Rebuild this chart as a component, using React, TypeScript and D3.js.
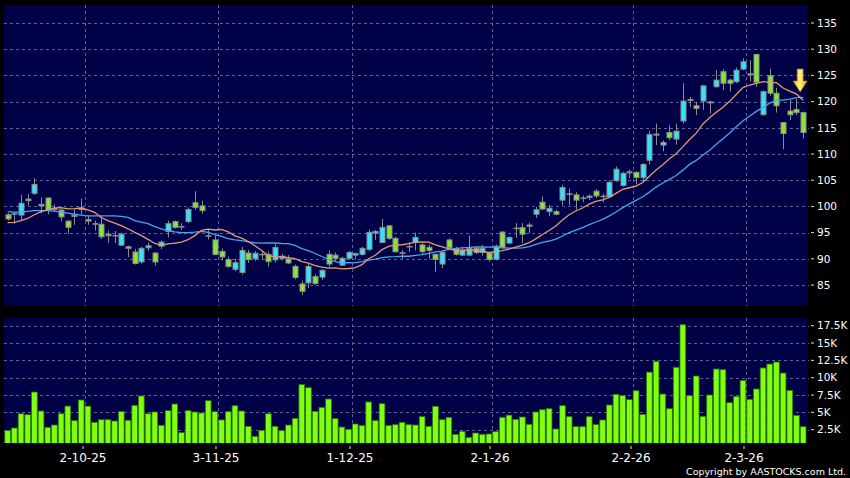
import React from 'react';
import * as d3 from 'd3';

const W = 850;
const H = 478;

// x-axis tick labels and the bar index at which each month starts
const tickLabels = ['2-10-25', '3-11-25', '1-12-25', '2-1-26', '2-2-26', '2-3-26'];
const tickIndex = [12, 32, 52, 73, 94, 111];

// OHLC per trading day (120 bars)
const opens = [
  98.4, 98.5, 98.35, 101.1, 102.5, 100.4, 101.6, 99.6, 99.3, 97.2,
  98.3, 99.4, 97.5, 96.7, 96.6, 94.7, 94.45, 92.6, 92.3, 91.3,
  89.4, 92.1, 91.1, 92.4, 95.2, 97.1, 96.05, 97.1, 100.7, 100.1,
  94.4, 93.6, 91.4, 89.85, 88.0, 87.4, 91.1, 90.0, 90.85, 90.85,
  89.8, 90.1, 90.0, 88.55, 85.2, 85.4, 86.6, 86.5, 90.85, 90.7,
  88.8, 90.1, 90.7, 90.85, 91.8, 94.9, 93.1, 96.3, 93.9, 91.15,
  92.35, 93.1, 92.65, 92.2, 90.85, 89.0, 93.6, 91.9, 90.7, 90.7,
  92.0, 91.2, 91.1, 89.9, 95.1, 93.0, 95.75, 95.95, 96.2, 98.5,
  100.8, 99.0, 99.0, 101.2, 102.3, 102.2, 101.5, 101.7, 102.9, 101.95,
  101.85, 104.9, 104.0, 106.4, 106.5, 105.5, 108.8, 113.6, 111.7, 114.1,
  112.85, 116.3, 120.2, 119.2, 120.1, 119.95, 122.85, 125.7, 124.1, 123.8,
  126.2, 125.3, 129.0, 117.5, 124.95, 121.6, 116.0, 118.2, 118.5, 117.9,
];
const highs = [
  98.7, 98.9, 102.2, 102.3, 105.4, 101.7, 101.7, 100.4, 99.6, 97.3,
  99.5, 101.5, 98.2, 97.3, 98.2, 95.4, 95.3, 95.0, 92.5, 91.9,
  92.3, 93.1, 91.3, 93.5, 97.3, 97.3, 96.8, 99.8, 102.9, 101.1,
  95.6, 94.5, 91.95, 90.4, 90.0, 92.3, 91.7, 91.5, 91.6, 91.4,
  92.9, 90.9, 90.7, 88.9, 85.8, 89.05, 87.1, 88.0, 91.6, 91.2,
  90.4, 91.5, 91.2, 92.3, 95.6, 95.5, 97.6, 96.4, 94.2, 91.65,
  93.2, 95.0, 92.95, 92.7, 91.0, 91.7, 93.9, 92.3, 92.3, 94.4,
  92.3, 92.6, 91.3, 92.7, 95.3, 94.3, 96.8, 96.8, 96.9, 99.9,
  101.9, 100.3, 99.4, 104.1, 103.4, 102.7, 102.1, 102.3, 103.3, 102.4,
  104.9, 107.6, 106.6, 107.0, 106.7, 108.3, 114.35, 115.8, 112.65, 115.45,
  115.8, 123.5, 120.9, 120.0, 123.2, 120.1, 126.0, 126.2, 124.4, 126.5,
  128.25, 127.9, 129.1, 122.1, 126.3, 122.65, 116.0, 120.3, 120.5, 118.1,
];
const lows = [
  97.3, 96.7, 97.3, 100.2, 102.2, 98.7, 98.5, 98.9, 97.2, 94.8,
  96.5, 98.4, 96.5, 95.4, 93.8, 93.0, 93.0, 92.5, 90.3, 88.9,
  89.1, 91.5, 88.7, 91.9, 94.1, 95.8, 95.5, 96.8, 99.3, 98.6,
  93.7, 90.7, 89.7, 88.3, 87.6, 87.0, 89.2, 89.6, 89.9, 88.5,
  89.3, 89.7, 89.0, 86.1, 83.1, 84.4, 85.0, 86.0, 88.4, 89.6,
  88.6, 89.8, 89.9, 90.6, 91.45, 93.6, 93.1, 93.6, 91.2, 90.0,
  91.3, 91.6, 90.9, 90.0, 87.5, 88.2, 91.7, 90.6, 90.5, 90.5,
  90.9, 90.6, 89.4, 89.7, 91.9, 92.8, 94.0, 93.0, 94.9, 97.8,
  99.3, 98.1, 98.3, 100.2, 100.2, 99.4, 100.8, 101.2, 101.6, 100.8,
  101.6, 104.7, 103.8, 105.4, 104.2, 104.7, 108.0, 111.7, 110.5, 112.65,
  111.8, 115.8, 119.0, 117.4, 118.4, 117.7, 122.65, 122.2, 121.9, 123.5,
  126.0, 123.9, 122.8, 117.3, 121.1, 117.9, 110.9, 116.5, 117.4, 113.0,
];
const closes = [
  97.6, 98.6, 100.6, 101.4, 104.2, 100.1, 99.4, 99.4, 98.0, 96.0,
  98.1, 99.7, 97.2, 96.6, 94.2, 94.4, 94.35, 94.7, 92.0, 89.1,
  92.0, 92.5, 89.4, 93.2, 96.7, 96.0, 96.15, 99.4, 99.8, 99.2,
  94.3, 90.8, 90.35, 88.55, 89.25, 91.6, 89.85, 91.05, 90.75, 89.45,
  92.15, 90.5, 89.2, 86.45, 83.8, 88.55, 85.3, 87.8, 89.0, 90.1,
  90.1, 91.2, 91.0, 92.0, 95.05, 95.2, 96.0, 93.9, 91.35, 91.05,
  92.25, 94.1, 91.35, 91.6, 89.9, 91.25, 92.1, 90.85, 91.65, 92.0,
  91.2, 92.0, 89.85, 92.4, 92.2, 94.05, 95.85, 94.7, 96.45, 99.35,
  99.5, 99.65, 98.5, 103.6, 102.4, 101.2, 101.6, 101.95, 102.0, 101.85,
  104.6, 107.1, 106.3, 106.6, 105.5, 108.0, 113.7, 113.8, 112.2, 113.1,
  114.35, 120.1, 120.4, 118.7, 123.0, 119.75, 124.1, 123.5, 123.5, 126.0,
  127.6, 125.1, 123.7, 121.9, 121.6, 119.2, 113.9, 117.5, 117.9, 114.1,
];

// volume in thousands
const volumes = [
  2.36, 2.74, 4.8, 4.66, 7.93, 5.19, 2.84, 3.17, 4.8, 5.9,
  3.8, 6.78, 5.9, 3.56, 3.94, 3.94, 3.75, 5.1, 3.85, 6.0,
  7.36, 4.8, 5.05, 3.13, 5.24, 6.2, 2.07, 5.24, 5.05, 4.9,
  6.68, 5.1, 3.9, 5.1, 5.96, 5.19, 2.98, 1.54, 2.4, 4.8,
  2.98, 2.36, 3.17, 4.13, 9.0, 8.56, 5.14, 5.72, 6.92, 4.09,
  2.88, 2.55, 3.32, 3.08, 6.5, 3.8, 6.25, 3.08, 3.22, 3.56,
  3.22, 3.17, 4.38, 2.98, 5.87, 3.94, 4.28, 1.83, 2.26, 1.39,
  2.02, 1.83, 1.88, 2.21, 4.28, 4.6, 3.99, 4.33, 3.27, 5.05,
  5.38, 5.53, 2.6, 5.96, 4.38, 2.93, 2.93, 4.38, 3.22, 3.9,
  6.06, 7.6, 7.45, 6.83, 8.12, 4.7, 10.8, 12.36, 7.64, 5.53,
  11.5, 17.64, 7.4, 10.24, 4.42, 7.5, 11.25, 11.15, 6.39, 7.3,
  9.6, 6.88, 8.37, 11.4, 11.97, 12.26, 10.67, 8.17, 4.57, 2.93,
];

// moving-average values for the first bars (before a full window exists)
const ma10Head = [96.9, 96.96, 97.3, 97.7, 98.4, 99.0, 99.4, 99.7, 99.75];
const ma20Head = [
  99.0, 98.9, 98.9, 99.05, 99.2, 99.2, 99.2, 99.1, 98.9, 98.7,
  98.5, 98.35, 98.2, 98.2, 98.2, 98.2, 98.2, 98.1, 97.9,
];

const priceTicks = [85, 90, 95, 100, 105, 110, 115, 120, 125, 130, 135];
const volTicks = [2.5, 5, 7.5, 10, 12.5, 15, 17.5];
const volTickLabels = ['2.5K', '5K', '7.5K', '10K', '12.5K', '15K', '17.5K'];

const N = closes.length;

function movingAvg(period: number, head: number[]): number[] {
  return closes.map((_, i) => {
    if (i < period - 1) return head[i];
    return d3.mean(closes.slice(i - period + 1, i + 1)) as number;
  });
}

const FONT = '"DejaVu Sans", Verdana, sans-serif';

export default function App() {
  const panelL = 4;
  const panelR = 807;
  const mainTop = 5;
  const mainBot = 306;
  const volTop = 318;
  const volBot = 443;

  const xl = d3.scaleLinear().domain([0, N]).range([4.3, 4.3 + N * 6.685]);
  const xc = (i: number) => xl(i + 0.5);
  const y = d3.scaleLinear().domain([85, 135]).range([285, 23]);
  const yv = d3.scaleLinear().domain([0, 17.5]).range([447, 325.7]);

  const ma10 = movingAvg(10, ma10Head);
  const ma20 = movingAvg(20, ma20Head);
  const line = d3
    .line<number>()
    .x((_, i) => xc(i))
    .y((d) => y(d))
    .curve(d3.curveLinear);

  const gridColor = '#5f5f98';
  const cyan = '#35E2F6';
  const green = '#8AE437';
  const outline = '#8c8c8c';

  const lastX = xc(N - 1) - 3;
  const arrowTop = 69;
  const arrowMid = 81;
  const arrowTip = 92;

  return (
    <svg
      width={W}
      height={H}
      style={{ position: 'absolute', left: 0, top: 0, background: '#000' }}
    >
      <defs>
        <linearGradient id="arrowGrad" x1="0" y1="0" x2="1" y2="0">
          <stop offset="0" stopColor="#f7c531" />
          <stop offset="0.5" stopColor="#fff27a" />
          <stop offset="1" stopColor="#e9a20e" />
        </linearGradient>
        <clipPath id="volClip">
          <rect x={panelL} y={volTop} width={panelR - panelL} height={volBot - volTop} />
        </clipPath>
        <clipPath id="mainClip">
          <rect x={panelL} y={mainTop} width={panelR - panelL} height={mainBot - mainTop} />
        </clipPath>
      </defs>
      <rect x={0} y={0} width={W} height={H} fill="#000" />

      {/* main panel */}
      <rect x={panelL} y={mainTop} width={panelR - panelL} height={mainBot - mainTop} fill="#000046" />
      {/* volume panel */}
      <rect x={panelL} y={volTop} width={panelR - panelL} height={volBot - volTop} fill="#000046" />

      {/* horizontal grid - price */}
      {priceTicks.map((t) => (
        <line
          key={'pg' + t}
          x1={panelL}
          x2={panelR + 2}
          y1={Math.round(y(t)) + 0.5}
          y2={Math.round(y(t)) + 0.5}
          stroke={gridColor}
          strokeDasharray="3 3"
        />
      ))}
      {/* horizontal grid - volume */}
      {volTicks.map((t) => (
        <line
          key={'vg' + t}
          x1={panelL}
          x2={panelR + 2}
          y1={Math.round(yv(t)) + 0.5}
          y2={Math.round(yv(t)) + 0.5}
          stroke={gridColor}
          strokeDasharray="3 3"
        />
      ))}
      {/* vertical grid */}
      {tickIndex.map((ti) => (
        <g key={'vgx' + ti}>
          <line
            x1={Math.round(xl(ti)) + 0.5}
            x2={Math.round(xl(ti)) + 0.5}
            y1={mainTop}
            y2={mainBot}
            stroke={gridColor}
            strokeDasharray="3 3"
          />
          <line
            x1={Math.round(xl(ti)) + 0.5}
            x2={Math.round(xl(ti)) + 0.5}
            y1={volTop}
            y2={volBot}
            stroke={gridColor}
            strokeDasharray="3 3"
          />
        </g>
      ))}

      {/* volume bars */}
      <g clipPath="url(#volClip)">
        {volumes.map((v, i) => (
          <rect
            key={'v' + i}
            x={xl(i) + 0.5}
            y={yv(v)}
            width={5.7}
            height={Math.max(0, volBot + 2 - yv(v))}
            fill="#80FF10"
            stroke="#2f7a00"
            strokeWidth={0.8}
          />
        ))}
      </g>

      {/* candles */}
      <g clipPath="url(#mainClip)">
        {closes.map((c, i) => {
          const o = opens[i];
          const up = c >= o;
          const top = y(Math.max(o, c));
          const bot = y(Math.min(o, c));
          const cx = Math.round(xc(i)) + 0.5;
          return (
            <g key={'c' + i}>
              <line x1={cx} x2={cx} y1={y(highs[i])} y2={y(lows[i])} stroke={outline} strokeWidth={1} />
              <rect
                x={cx - 2.5}
                y={top}
                width={5}
                height={Math.max(0.4, bot - top)}
                fill={up ? cyan : green}
                stroke={outline}
                strokeWidth={1}
              />
            </g>
          );
        })}
        {/* moving averages */}
        <path d={line(ma20) || ''} fill="none" stroke="#45A6EC" strokeWidth={1.3} />
        <path d={line(ma10) || ''} fill="none" stroke="#E39A74" strokeWidth={1.3} />
      </g>

      {/* yellow arrow */}
      <path
        d={`M${lastX - 3},${arrowTop} L${lastX + 3},${arrowTop} L${lastX + 3},${arrowMid} L${lastX + 7},${arrowMid} L${lastX},${arrowTip} L${lastX - 7},${arrowMid} L${lastX - 3},${arrowMid} Z`}
        fill="url(#arrowGrad)"
        stroke="#b07a00"
        strokeWidth={0.7}
      />

      {/* price axis */}
      {priceTicks.map((t) => (
        <g key={'pt' + t}>
          <line x1={811} x2={814} y1={y(t)} y2={y(t)} stroke="#ddd" />
          <text
            x={817}
            y={y(t)}
            dy="0.36em"
            fill="#fff"
            fontSize={10.5}
            fontFamily={FONT}
          >
            {t}
          </text>
        </g>
      ))}
      {/* volume axis */}
      {volTicks.map((t, k) => (
        <g key={'vt' + t}>
          <line x1={811} x2={814} y1={yv(t)} y2={yv(t)} stroke="#ddd" />
          <text
            x={817}
            y={yv(t)}
            dy="0.36em"
            fill="#fff"
            fontSize={10.5}
            fontFamily={FONT}
          >
            {volTickLabels[k]}
          </text>
        </g>
      ))}

      {/* date axis */}
      {tickIndex.map((ti, k) => {
        const x = Math.round(xl(ti)) - 2;
        return (
          <g key={'dt' + ti}>
            <line x1={x} x2={x} y1={446} y2={449} stroke="#ddd" />
            <text
              x={x}
              y={461.5}
              textAnchor="middle"
              fill="#fff"
              fontSize={12}
              fontFamily={FONT}
            >
              {tickLabels[k]}
            </text>
          </g>
        );
      })}

      <text
        x={846}
        y={475}
        textAnchor="end"
        fill="#fff"
        fontSize={9.5}
        fontFamily={FONT}
      >
        Copyright by AASTOCKS.com Ltd.
      </text>
    </svg>
  );
}
